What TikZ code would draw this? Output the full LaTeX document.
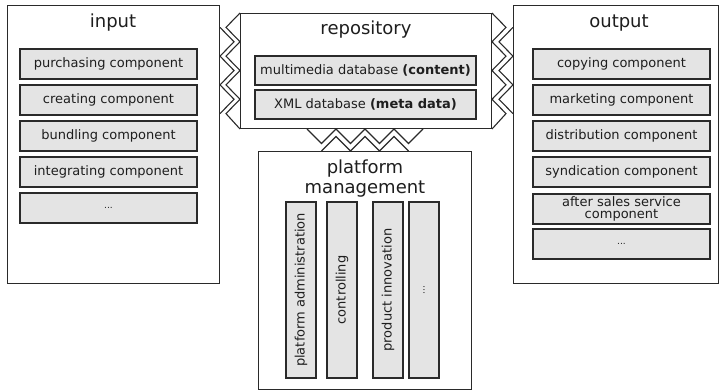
\documentclass[tikz,border=0pt]{standalone}
\usepackage{fontspec}
\setmainfont{DejaVu Sans}
\definecolor{linec}{HTML}{2A2A2A}
\definecolor{boxfill}{HTML}{E4E4E4}
\definecolor{textc}{HTML}{1E1E1E}
\begin{document}
\begin{tikzpicture}[x=1pt,y=-1pt,
  outer/.style={draw=linec, line width=1pt, fill=white, inner sep=0pt},
  inbox/.style={draw=linec, line width=1.3pt, fill=boxfill, text=textc, inner sep=0pt,
    font=\fontsize{13}{13}\selectfont, align=center},
  hbox/.style={inbox, minimum width=177, minimum height=30},
  vbox/.style={inbox, rotate=90, minimum width=176, minimum height=30},
  title/.style={text=textc, font=\fontsize{18}{20}\selectfont, align=center, inner sep=0pt},
  zz/.style={draw=linec, line width=1.1pt, line join=miter}]
\useasboundingbox (0,0) rectangle (720,391);

% outer boxes
\node[outer, minimum width=212, minimum height=278, anchor=north west] (input) at (7,5) {};
\node[outer, minimum width=251, minimum height=115, anchor=north west] (repo) at (240,13) {};
\node[outer, minimum width=205, minimum height=278, anchor=north west] (output) at (513,5) {};
\node[outer, minimum width=213, minimum height=238, anchor=north west] (plat) at (258,151) {};

% titles
\node[title] (tin) at (113,23) {input};
\node[title] (trepo) at (366,30) {repository};
\node[title] (tout) at (619,23) {output};
\node[title] (tplat) at (365,179) {platform\\management};

% input components
\node[hbox] (i1) at (108.5,64) {purchasing component};
\node[hbox] (i2) at (108.5,100) {creating component};
\node[hbox] (i3) at (108.5,136) {bundling component};
\node[hbox] (i4) at (108.5,172) {integrating component};
\node[hbox] (i5) at (108.5,208) {\fontsize{9}{10}\selectfont ...};

% repository
\node[inbox, minimum width=221, minimum height=29] (r1) at (365.5,70.5) {multimedia database \textbf{(content)}};
\node[inbox, minimum width=221, minimum height=29] (r2) at (365.5,104.5) {XML database \textbf{(meta data)}};

% output components
\node[hbox] (o1) at (621.5,64) {copying component};
\node[hbox] (o2) at (621.5,100) {marketing component};
\node[hbox] (o3) at (621.5,136) {distribution component};
\node[hbox] (o4) at (621.5,172) {syndication component};
\node[hbox, font=\fontsize{13}{12.5}\selectfont] (o5) at (621.5,209) {after sales service\\component};
\node[hbox] (o6) at (621.5,244) {\fontsize{9}{10}\selectfont ...};

% platform management
\node[vbox] (p1) at (301,290) {platform administration};
\node[vbox] (p2) at (342,290) {controlling};
\node[vbox] (p3) at (388,290) {product innovation};
\node[vbox] (p4) at (424,290) {\fontsize{9}{10}\selectfont ...};

% zigzag interfaces: input -- repository
\draw[zz] (repo.north west)
  -- ++(-14,14.375) -- ++(14,14.375) -- ++(-14,14.375) -- ++(14,14.375)
  -- ++(-14,14.375) -- ++(14,14.375) -- ++(-14,14.375) -- (repo.south west);
\draw[zz] (input.north east |- 0,27.4)
  -- ++(14,14.375) -- ++(-14,14.375) -- ++(14,14.375)
  -- ++(-14,14.375) -- ++(14,14.375) -- ++(-14,14.375);

% repository -- output
\draw[zz] (repo.north east)
  -- ++(14,14.375) -- ++(-14,14.375) -- ++(14,14.375) -- ++(-14,14.375)
  -- ++(14,14.375) -- ++(-14,14.375) -- ++(14,14.375) -- (repo.south east);
\draw[zz] (output.north west |- 0,27.4)
  -- ++(-14,14.375) -- ++(14,14.375) -- ++(-14,14.375)
  -- ++(14,14.375) -- ++(-14,14.375) -- ++(14,14.375);

% repository -- platform management
\draw[zz] (repo.south -| 307,0)
  -- ++(14.5,14.5) -- ++(14.5,-14.5) -- ++(14.5,14.5) -- ++(14.5,-14.5)
  -- ++(14.5,14.5) -- ++(14.5,-14.5) -- ++(14.5,14.5) -- ++(14.5,-14.5);
\draw[zz] (plat.north -| 321.5,0)
  -- ++(14.5,-14.5) -- ++(14.5,14.5) -- ++(14.5,-14.5)
  -- ++(14.5,14.5) -- ++(14.5,-14.5) -- ++(14.5,14.5);
\end{tikzpicture}
\end{document}
